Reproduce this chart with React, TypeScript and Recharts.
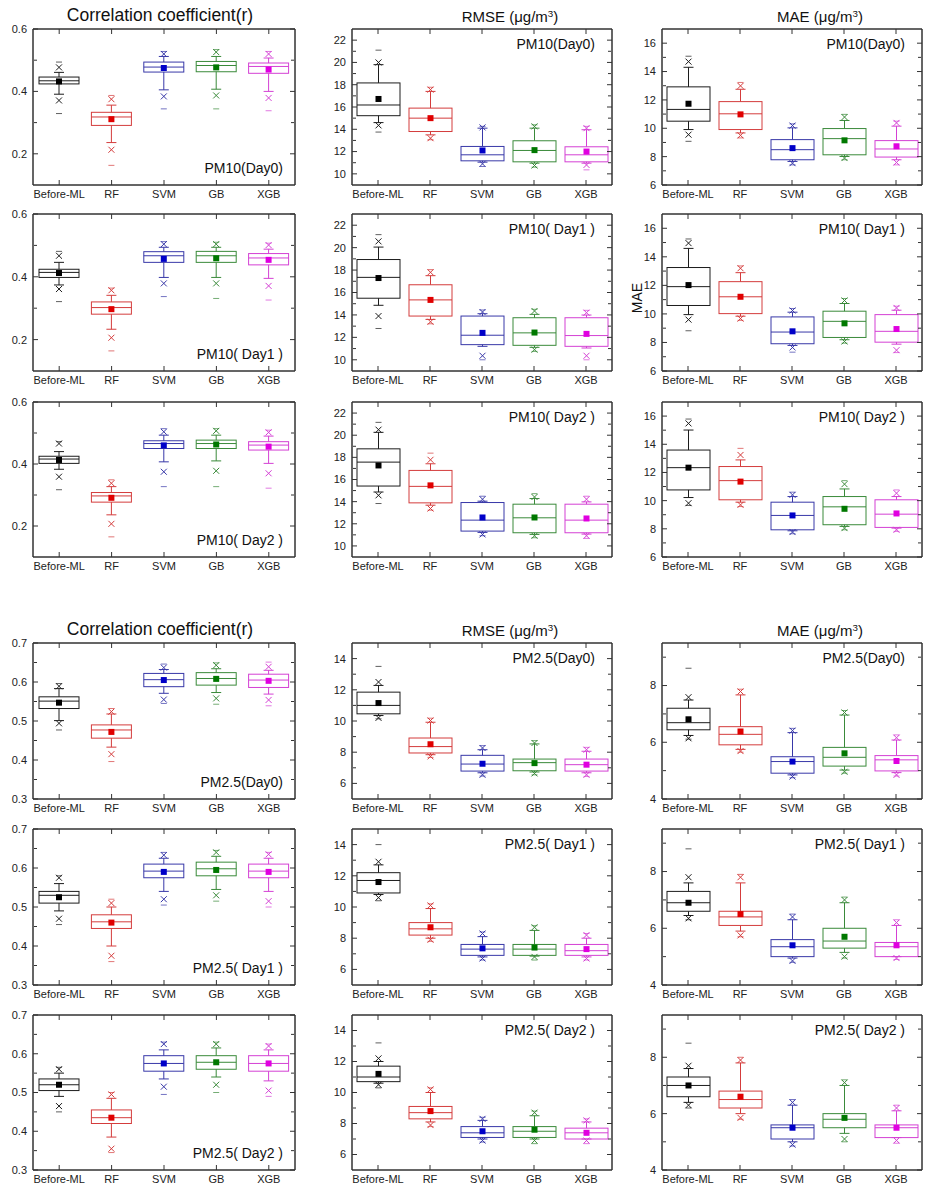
import React from "react";
import { ComposedChart, Bar, Line, XAxis, YAxis, ReferenceArea } from "recharts";

// Box plot grid: r / RMSE / MAE for PM10 and PM2.5, Day0..Day2.
// Each row of a stats array: [min, p1, p5, q1, median, q3, p95, p99, max, mean]

const MODELS = ["Before-ML", "RF", "SVM", "GB", "XGB"];
const LINE_COLORS = ["#1c1c1c", "#d43c3c", "#3838a8", "#3a8a3a", "#d440d4"];
const MEAN_COLORS = ["#000000", "#e00000", "#0000c8", "#007800", "#e000e0"];

const pm10Day0R = [
  [0.329, 0.371, 0.391, 0.424, 0.434, 0.446, 0.461, 0.477, 0.494, 0.432],
  [0.163, 0.213, 0.236, 0.291, 0.318, 0.333, 0.356, 0.375, 0.387, 0.311],
  [0.344, 0.384, 0.405, 0.462, 0.478, 0.494, 0.512, 0.52, 0.528, 0.475],
  [0.344, 0.387, 0.407, 0.463, 0.483, 0.496, 0.512, 0.526, 0.534, 0.477],
  [0.338, 0.379, 0.4, 0.458, 0.48, 0.491, 0.507, 0.52, 0.528, 0.47],
];
const pm10Day0Rmse = [
  [13.75, 14.35, 14.6, 15.22, 16.18, 18.16, 19.8, 20.0, 21.1, 16.72],
  [13.06, 13.2, 13.5, 13.8, 15.0, 15.9, 17.4, 17.56, 17.77, 15.0],
  [10.66, 10.9, 11.05, 11.17, 11.71, 12.46, 14.1, 14.17, 14.26, 12.1],
  [10.6, 10.75, 10.96, 11.08, 12.1, 12.97, 14.1, 14.26, 14.4, 12.13],
  [10.36, 10.8, 10.96, 11.08, 11.71, 12.43, 13.96, 14.1, 14.26, 12.0],
];
const pm10Day0Mae = [
  [9.08, 9.55, 9.91, 10.5, 11.33, 12.92, 14.3, 14.7, 15.08, 11.73],
  [9.32, 9.5, 9.67, 9.91, 11.02, 11.88, 12.75, 12.99, 13.23, 10.98],
  [7.42, 7.54, 7.66, 7.78, 8.49, 9.2, 10.03, 10.19, 10.31, 8.6],
  [7.78, 7.9, 8.01, 8.13, 9.27, 9.98, 10.55, 10.79, 10.98, 9.15],
  [7.42, 7.59, 7.78, 7.97, 8.54, 9.13, 10.15, 10.38, 10.5, 8.73],
];
const pm10Day1R = [
  [0.321, 0.361, 0.374, 0.398, 0.414, 0.424, 0.446, 0.467, 0.481, 0.412],
  [0.164, 0.206, 0.233, 0.281, 0.302, 0.32, 0.341, 0.357, 0.364, 0.297],
  [0.337, 0.379, 0.398, 0.446, 0.467, 0.48, 0.494, 0.504, 0.512, 0.457],
  [0.331, 0.379, 0.398, 0.446, 0.467, 0.481, 0.494, 0.504, 0.51, 0.459],
  [0.326, 0.371, 0.395, 0.438, 0.46, 0.474, 0.488, 0.501, 0.507, 0.454],
];
const pm10Day1Rmse = [
  [12.79, 13.9, 14.86, 15.49, 17.35, 18.94, 20.05, 20.56, 21.16, 17.29],
  [13.21, 13.39, 13.6, 13.9, 15.34, 16.69, 17.5, 17.8, 18.04, 15.34],
  [10.0, 10.36, 11.2, 11.35, 12.19, 13.9, 14.11, 14.26, 14.44, 12.4],
  [10.75, 10.9, 11.11, 11.29, 12.4, 13.75, 14.05, 14.35, 14.5, 12.43],
  [10.0, 10.36, 11.05, 11.2, 12.16, 13.75, 13.99, 14.2, 14.41, 12.31],
];
const pm10Day1Mae = [
  [8.82, 9.6, 9.95, 10.59, 11.91, 13.25, 14.59, 14.96, 15.25, 12.02],
  [9.55, 9.67, 9.84, 10.02, 11.2, 12.26, 12.89, 13.2, 13.36, 11.2],
  [7.32, 7.65, 7.79, 7.91, 8.73, 9.79, 10.12, 10.24, 10.38, 8.78],
  [7.95, 8.07, 8.19, 8.35, 9.48, 10.19, 10.73, 10.94, 11.08, 9.34],
  [7.29, 7.46, 7.88, 8.02, 8.78, 9.95, 10.26, 10.42, 10.54, 8.94],
];
const pm10Day2R = [
  [0.317, 0.359, 0.383, 0.402, 0.416, 0.425, 0.44, 0.466, 0.472, 0.413],
  [0.165, 0.207, 0.236, 0.277, 0.297, 0.308, 0.327, 0.338, 0.349, 0.291],
  [0.327, 0.375, 0.407, 0.45, 0.466, 0.475, 0.493, 0.504, 0.514, 0.46],
  [0.327, 0.378, 0.41, 0.45, 0.466, 0.477, 0.493, 0.507, 0.514, 0.463],
  [0.322, 0.37, 0.402, 0.445, 0.461, 0.472, 0.49, 0.502, 0.509, 0.456],
];
const pm10Day2Rmse = [
  [13.83, 14.57, 14.87, 15.41, 17.57, 18.77, 20.26, 20.5, 21.16, 17.27],
  [13.23, 13.38, 13.68, 13.89, 15.38, 16.82, 17.42, 17.78, 18.38, 15.47],
  [10.92, 11.04, 11.22, 11.34, 12.33, 13.92, 14.04, 14.22, 14.49, 12.57],
  [10.74, 10.92, 11.04, 11.19, 12.54, 13.77, 14.28, 14.42, 14.72, 12.57],
  [10.68, 10.92, 11.07, 11.19, 12.33, 13.77, 13.98, 14.22, 14.49, 12.48],
];
const pm10Day2Mae = [
  [9.66, 9.82, 10.22, 10.76, 12.34, 13.59, 15.01, 15.48, 15.79, 12.34],
  [9.58, 9.7, 9.89, 10.06, 11.42, 12.42, 12.89, 13.24, 13.71, 11.35],
  [7.65, 7.77, 7.86, 7.93, 8.95, 9.89, 10.29, 10.41, 10.6, 8.95],
  [7.93, 8.05, 8.17, 8.29, 9.56, 10.29, 10.83, 11.17, 11.42, 9.42],
  [7.82, 7.93, 8.05, 8.1, 9.04, 10.06, 10.29, 10.53, 10.76, 9.09],
];
const pm25Day0R = [
  [0.477, 0.494, 0.501, 0.532, 0.551, 0.562, 0.583, 0.589, 0.596, 0.547],
  [0.396, 0.415, 0.433, 0.456, 0.477, 0.49, 0.518, 0.524, 0.532, 0.472],
  [0.545, 0.555, 0.571, 0.588, 0.606, 0.622, 0.632, 0.637, 0.646, 0.605],
  [0.543, 0.558, 0.573, 0.592, 0.609, 0.624, 0.634, 0.643, 0.649, 0.608],
  [0.539, 0.554, 0.569, 0.586, 0.605, 0.62, 0.63, 0.639, 0.651, 0.603],
];
const pm25Day0Rmse = [
  [10.14, 10.2, 10.35, 10.46, 11.0, 11.85, 12.28, 12.5, 13.5, 11.15],
  [7.67, 7.73, 7.84, 7.95, 8.36, 8.91, 9.92, 10.03, 10.18, 8.51],
  [6.47, 6.55, 6.68, 6.79, 7.24, 7.8, 8.16, 8.27, 8.42, 7.26],
  [6.55, 6.64, 6.73, 6.81, 7.33, 7.56, 8.53, 8.59, 8.74, 7.3],
  [6.45, 6.55, 6.68, 6.79, 7.2, 7.56, 8.06, 8.16, 8.31, 7.2],
];
const pm25Day0Mae = [
  [6.11, 6.14, 6.24, 6.44, 6.69, 7.2, 7.49, 7.59, 8.61, 6.81],
  [5.65, 5.69, 5.75, 5.91, 6.28, 6.55, 7.67, 7.79, 7.87, 6.38],
  [4.75, 4.79, 4.85, 4.91, 5.32, 5.49, 6.34, 6.41, 6.49, 5.32],
  [4.91, 4.96, 5.02, 5.16, 5.47, 5.82, 6.96, 7.05, 7.12, 5.61],
  [4.81, 4.85, 4.93, 4.99, 5.38, 5.53, 6.08, 6.16, 6.26, 5.34],
];
const pm25Day1R = [
  [0.455, 0.47, 0.49, 0.51, 0.53, 0.54, 0.56, 0.575, 0.58, 0.525],
  [0.36, 0.375, 0.4, 0.445, 0.462, 0.48, 0.5, 0.51, 0.52, 0.46],
  [0.505, 0.52, 0.54, 0.575, 0.592, 0.61, 0.625, 0.633, 0.64, 0.59],
  [0.515, 0.53, 0.545, 0.58, 0.598, 0.615, 0.63, 0.64, 0.645, 0.595],
  [0.5, 0.515, 0.54, 0.575, 0.592, 0.61, 0.625, 0.635, 0.64, 0.59],
];
const pm25Day1Rmse = [
  [10.4, 10.6, 10.8, 10.9, 11.7, 12.2, 12.7, 12.9, 14.0, 11.6],
  [7.8, 7.9, 8.0, 8.2, 8.6, 9.0, 9.9, 10.1, 10.2, 8.7],
  [6.6, 6.7, 6.8, 6.9, 7.3, 7.6, 8.1, 8.3, 8.4, 7.35],
  [6.6, 6.8, 6.85, 6.9, 7.3, 7.6, 8.5, 8.7, 8.8, 7.4],
  [6.6, 6.7, 6.8, 6.9, 7.2, 7.6, 8.0, 8.2, 8.3, 7.3],
];
const pm25Day1Mae = [
  [6.3, 6.35, 6.45, 6.6, 6.9, 7.3, 7.6, 7.8, 8.8, 6.9],
  [5.7, 5.75, 5.9, 6.1, 6.4, 6.6, 7.6, 7.8, 7.9, 6.5],
  [4.8, 4.85, 4.95, 5.0, 5.35, 5.6, 6.3, 6.4, 6.5, 5.4],
  [4.95, 5.0, 5.15, 5.3, 5.55, 6.0, 6.9, 7.0, 7.1, 5.7],
  [4.9, 4.95, 5.0, 5.0, 5.35, 5.5, 6.1, 6.2, 6.3, 5.4],
];
const pm25Day2R = [
  [0.45, 0.465, 0.49, 0.505, 0.52, 0.535, 0.55, 0.56, 0.565, 0.52],
  [0.345, 0.355, 0.385, 0.42, 0.435, 0.455, 0.485, 0.495, 0.5, 0.435],
  [0.495, 0.515, 0.535, 0.555, 0.575, 0.595, 0.61, 0.625, 0.63, 0.575],
  [0.5, 0.52, 0.54, 0.56, 0.578, 0.595, 0.615, 0.625, 0.63, 0.578],
  [0.49, 0.505, 0.53, 0.555, 0.575, 0.595, 0.61, 0.62, 0.625, 0.575],
];
const pm25Day2Rmse = [
  [10.3, 10.5, 10.6, 10.7, 11.0, 11.7, 12.0, 12.2, 13.2, 11.2],
  [7.8, 7.9, 8.1, 8.3, 8.7, 9.1, 10.0, 10.2, 10.3, 8.8],
  [6.8, 6.9, 7.0, 7.1, 7.4, 7.8, 8.2, 8.3, 8.4, 7.5],
  [6.7, 6.9, 7.0, 7.1, 7.5, 7.8, 8.5, 8.7, 8.8, 7.6],
  [6.7, 6.9, 7.0, 7.0, 7.4, 7.7, 8.1, 8.2, 8.3, 7.4],
];
const pm25Day2Mae = [
  [6.2, 6.3, 6.4, 6.6, 7.0, 7.3, 7.6, 7.7, 8.5, 7.0],
  [5.8, 5.85, 6.0, 6.2, 6.5, 6.8, 7.8, 7.9, 8.0, 6.6],
  [4.85, 4.9, 5.0, 5.1, 5.5, 5.6, 6.3, 6.4, 6.5, 5.5],
  [5.0, 5.1, 5.3, 5.5, 5.8, 6.0, 7.0, 7.1, 7.2, 5.85],
  [4.95, 5.05, 5.15, 5.15, 5.5, 5.6, 6.1, 6.2, 6.3, 5.5],
];

// axis setups (domain, labelled ticks, minor ticks)
const R10 = { domain: [0.1, 0.6], major: [0.2, 0.4, 0.6], minor: [0.3, 0.5], digits: 1 };
const RMSE10 = { domain: [9, 23], major: [10, 12, 14, 16, 18, 20, 22], minor: [11, 13, 15, 17, 19, 21], digits: 0 };
const MAE10 = { domain: [6, 17], major: [6, 8, 10, 12, 14, 16], minor: [7, 9, 11, 13, 15], digits: 0 };
const R25 = { domain: [0.3, 0.7], major: [0.3, 0.4, 0.5, 0.6, 0.7], minor: [0.35, 0.45, 0.55, 0.65], digits: 1 };
const RMSE25 = { domain: [5, 15], major: [6, 8, 10, 12, 14], minor: [7, 9, 11, 13], digits: 0 };
const MAE25 = { domain: [4, 9.5], major: [4, 6, 8], minor: [5, 7, 9], digits: 0 };

const COL_LEFT = [33, 352, 662];
const COL_W = [262, 260, 260];
const ROW_TOP = [29, 214, 402, 643, 829, 1015];
const ROW_H = [156, 157, 155, 156, 156, 155];

const FONT = "'Liberation Sans', Arial, sans-serif";
const AXIS = "#333";
const TEXT = "#222";

function BoxShape(props: any) {
  const { x, y, width, height, payload } = props;
  const s: number[] = payload.stats;
  const lo = s[0];
  const hi = s[8];
  // the bar spans [min, max]; everything else sits on the same linear scale
  const py = (v: number) => y + height - ((v - lo) / (hi - lo)) * height;
  const cx = x + width / 2;
  const c = payload.stroke;
  const cap = 5;
  const k = 3;
  return (
    <g>
      <line x1={cx} x2={cx} y1={py(s[5])} y2={py(s[6])} stroke={c} />
      <line x1={cx} x2={cx} y1={py(s[3])} y2={py(s[2])} stroke={c} />
      <line x1={cx - cap} x2={cx + cap} y1={py(s[6])} y2={py(s[6])} stroke={c} />
      <line x1={cx - cap} x2={cx + cap} y1={py(s[2])} y2={py(s[2])} stroke={c} />
      <rect x={x} y={py(s[5])} width={width} height={py(s[3]) - py(s[5])} fill="none" stroke={c} />
      <line x1={x} x2={x + width} y1={py(s[4])} y2={py(s[4])} stroke={c} />
      {[s[1], s[7]].map((v, i) => (
        <g key={i}>
          <line x1={cx - k} x2={cx + k} y1={py(v) - k} y2={py(v) + k} stroke={c} />
          <line x1={cx - k} x2={cx + k} y1={py(v) + k} y2={py(v) - k} stroke={c} />
        </g>
      ))}
      {[s[0], s[8]].map((v, i) => (
        <line key={i} x1={cx - 3} x2={cx + 3} y1={py(v)} y2={py(v)} stroke={c} strokeOpacity={0.7} />
      ))}
      <rect x={cx - 3} y={py(s[9]) - 3} width={6} height={6} fill={payload.fill} />
    </g>
  );
}

const hiddenTick = () => <g />;

function Panel({ stats, col, row, axis, note }: any) {
  const left = COL_LEFT[col];
  const w = COL_W[col];
  const top = ROW_TOP[row];
  const h = ROW_H[row];
  const YW = 40;
  const XH = 24;
  const MT = 8;
  const MR = 8;
  const rows = MODELS.map((m, i) => ({
    name: m,
    range: [stats[i][0], stats[i][8]],
    stats: stats[i],
    mean: stats[i][9],
    stroke: LINE_COLORS[i],
    fill: MEAN_COLORS[i],
  }));
  const fmt = (v: number) => v.toFixed(axis.digits);
  const yCommon = { type: "number" as const, domain: axis.domain, allowDataOverflow: true };
  const noteStyle: React.CSSProperties =
    col === 0
      ? { right: 932 - (left + w - 12), top: top + h - 12 - 13 }
      : { right: 932 - (left + w - 17), top: top + 20 - 13 };
  return (
    <>
      <div style={{ position: "absolute", left: left - YW, top: top - MT }}>
        <ComposedChart
          width={w + YW + MR}
          height={h + MT + XH}
          data={rows}
          margin={{ top: MT, right: MR, bottom: 0, left: 0 }}
        >
          <XAxis
            xAxisId="x"
            dataKey="name"
            interval={0}
            height={XH}
            tickLine={false}
            tickSize={0}
            tickMargin={5}
            axisLine={{ stroke: AXIS }}
            tick={{ fontSize: 11, fill: TEXT, fontFamily: FONT }}
          />
          <XAxis xAxisId="xt" dataKey="name" orientation="top" mirror height={1} interval={0}
            tick={hiddenTick} tickSize={5} axisLine={{ stroke: AXIS }} tickLine={{ stroke: AXIS }} />
          <XAxis xAxisId="xb" dataKey="name" mirror height={1} interval={0}
            tick={hiddenTick} tickSize={5} axisLine={false} tickLine={{ stroke: AXIS }} />
          <YAxis
            yAxisId="y"
            {...yCommon}
            ticks={axis.major}
            interval={0}
            width={YW}
            tickLine={false}
            tickSize={0}
            tickMargin={6}
            axisLine={{ stroke: AXIS }}
            tickFormatter={fmt}
            tick={{ fontSize: 11, fill: TEXT, fontFamily: FONT }}
          />
          <YAxis yAxisId="yl" {...yCommon} ticks={axis.major} interval={0} mirror width={1}
            tick={hiddenTick} tickSize={5} axisLine={false} tickLine={{ stroke: AXIS }} />
          <YAxis yAxisId="ylm" {...yCommon} ticks={axis.minor} interval={0} mirror width={1}
            tick={hiddenTick} tickSize={3} axisLine={false} tickLine={{ stroke: AXIS }} />
          <YAxis yAxisId="yr" {...yCommon} orientation="right" ticks={axis.major} interval={0} mirror width={1}
            tick={hiddenTick} tickSize={5} axisLine={{ stroke: AXIS }} tickLine={{ stroke: AXIS }} />
          <YAxis yAxisId="yrm" {...yCommon} orientation="right" ticks={axis.minor} interval={0} mirror width={1}
            tick={hiddenTick} tickSize={3} axisLine={false} tickLine={{ stroke: AXIS }} />
          <ReferenceArea
            xAxisId="x"
            yAxisId="y"
            y1={axis.domain[0]}
            y2={axis.domain[1]}
            fill="none"
            stroke={AXIS}
            ifOverflow="visible"
          />
          <Bar
            xAxisId="x"
            yAxisId="y"
            dataKey="range"
            barSize={col === 0 ? 40 : 43}
            shape={BoxShape}
            isAnimationActive={false}
          />
          <Line xAxisId="xt" yAxisId="yl" dataKey="mean" stroke="none" dot={false} activeDot={false} isAnimationActive={false} />
          <Line xAxisId="xb" yAxisId="ylm" dataKey="mean" stroke="none" dot={false} activeDot={false} isAnimationActive={false} />
          <Line xAxisId="xb" yAxisId="yr" dataKey="mean" stroke="none" dot={false} activeDot={false} isAnimationActive={false} />
          <Line xAxisId="xb" yAxisId="yrm" dataKey="mean" stroke="none" dot={false} activeDot={false} isAnimationActive={false} />
        </ComposedChart>
      </div>
      <div
        style={{
          position: "absolute",
          ...noteStyle,
          fontFamily: FONT,
          fontSize: 14,
          lineHeight: "16px",
          color: "#111",
          whiteSpace: "pre",
        }}
      >
        {note}
      </div>
    </>
  );
}

function Title({ text, cx, baseline, size }: { text: React.ReactNode; cx: number; baseline: number; size: number }) {
  return (
    <div
      style={{
        position: "absolute",
        left: cx - 150,
        width: 300,
        top: baseline - size * 0.85,
        textAlign: "center",
        fontFamily: FONT,
        fontSize: size,
        lineHeight: `${size}px`,
        color: "#111",
        whiteSpace: "nowrap",
      }}
    >
      {text}
    </div>
  );
}

const unit = (
  <>
    (μg/m<sup style={{ fontSize: "0.65em", verticalAlign: "0.55em", lineHeight: 0 }}>3</sup>)
  </>
);

export default function App() {
  return (
    <div style={{ position: "absolute", left: 0, top: 0, width: 932, height: 1198, background: "#fff" }}>
      <Title text="Correlation  coefficient(r)" cx={160} baseline={22} size={17.5} />
      <Title text={<>RMSE {unit}</>} cx={510} baseline={22} size={15} />
      <Title text={<>MAE {unit}</>} cx={820} baseline={22} size={15} />
      <Title text="Correlation  coefficient(r)" cx={160} baseline={636} size={17.5} />
      <Title text={<>RMSE {unit}</>} cx={510} baseline={636} size={15} />
      <Title text={<>MAE {unit}</>} cx={820} baseline={636} size={15} />

      <Panel stats={pm10Day0R} col={0} row={0} axis={R10} note="PM10(Day0)" />
      <Panel stats={pm10Day0Rmse} col={1} row={0} axis={RMSE10} note="PM10(Day0)" />
      <Panel stats={pm10Day0Mae} col={2} row={0} axis={MAE10} note="PM10(Day0)" />
      <Panel stats={pm10Day1R} col={0} row={1} axis={R10} note="PM10( Day1 )" />
      <Panel stats={pm10Day1Rmse} col={1} row={1} axis={RMSE10} note="PM10( Day1 )" />
      <Panel stats={pm10Day1Mae} col={2} row={1} axis={MAE10} note="PM10( Day1 )" />
      <Panel stats={pm10Day2R} col={0} row={2} axis={R10} note="PM10( Day2 )" />
      <Panel stats={pm10Day2Rmse} col={1} row={2} axis={RMSE10} note="PM10( Day2 )" />
      <Panel stats={pm10Day2Mae} col={2} row={2} axis={MAE10} note="PM10( Day2 )" />

      <Panel stats={pm25Day0R} col={0} row={3} axis={R25} note="PM2.5(Day0)" />
      <Panel stats={pm25Day0Rmse} col={1} row={3} axis={RMSE25} note="PM2.5(Day0)" />
      <Panel stats={pm25Day0Mae} col={2} row={3} axis={MAE25} note="PM2.5(Day0)" />
      <Panel stats={pm25Day1R} col={0} row={4} axis={R25} note="PM2.5( Day1 )" />
      <Panel stats={pm25Day1Rmse} col={1} row={4} axis={RMSE25} note="PM2.5( Day1 )" />
      <Panel stats={pm25Day1Mae} col={2} row={4} axis={MAE25} note="PM2.5( Day1 )" />
      <Panel stats={pm25Day2R} col={0} row={5} axis={R25} note="PM2.5( Day2 )" />
      <Panel stats={pm25Day2Rmse} col={1} row={5} axis={RMSE25} note="PM2.5( Day2 )" />
      <Panel stats={pm25Day2Mae} col={2} row={5} axis={MAE25} note="PM2.5( Day2 )" />

      <div
        style={{
          position: "absolute",
          left: 637 - 30,
          top: 298 - 9,
          width: 60,
          height: 18,
          transform: "rotate(-90deg)",
          textAlign: "center",
          fontFamily: FONT,
          fontSize: 14,
          lineHeight: "18px",
          color: "#111",
        }}
      >
        MAE
      </div>
    </div>
  );
}
